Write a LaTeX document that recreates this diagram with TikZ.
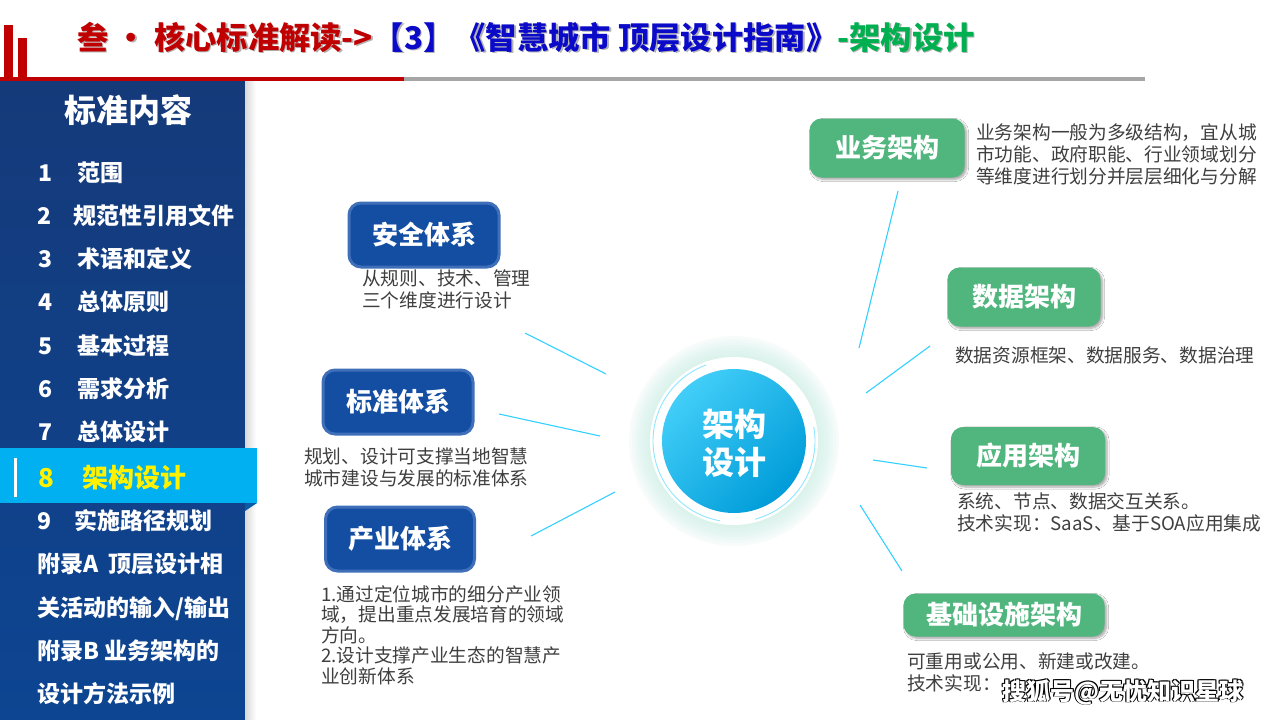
\documentclass[tikz,border=0pt]{standalone}
\usepackage{fontspec}
\setmainfont{Noto Sans CJK SC}
\usetikzlibrary{shadows.blur}
\definecolor{tred}{HTML}{C00000}
\definecolor{tblue}{HTML}{0A0AC8}
\definecolor{tgreen}{HTML}{00B050}
\definecolor{panelA}{HTML}{153A7A}
\definecolor{panelB}{HTML}{0D4592}
\definecolor{hilite}{HTML}{00B0F0}
\definecolor{bbox}{HTML}{134EA3}
\definecolor{bboxedge}{HTML}{3F6FB8}
\definecolor{gbox}{HTML}{50B67E}
\definecolor{desc}{HTML}{3F3F3F}
\definecolor{conn}{HTML}{33D1FF}
\definecolor{halo}{HTML}{CDEFE6}
\definecolor{coreA}{HTML}{42CEF8}
\definecolor{coreB}{HTML}{009CD9}
\tikzset{
  item/.style={anchor=base west, inner sep=0, text=white, font=\fontsize{23}{23}\selectfont\bfseries},
  bluebox/.style={draw=bboxedge, line width=3pt, fill=bbox, rounded corners=12pt, text=white, font=\fontsize{26}{26}\selectfont\bfseries, inner sep=0},
  greenbox/.style={fill=gbox, rounded corners=12pt, text=white, font=\fontsize{26}{26}\selectfont\bfseries, inner sep=0,
     blur shadow={shadow xshift=2pt, shadow yshift=-2pt, shadow blur steps=6, shadow opacity=35}},
  desctext/.style={anchor=north west, inner sep=0, align=left, text=desc, font=\fontsize{18.7}{22}\selectfont},
  connline/.style={draw=conn, line width=1.1pt},
  wmback/.style={text=black, font=\fontsize{24}{24}\selectfont\bfseries, inner sep=0},
}
\begin{document}
\begin{tikzpicture}[x=1pt,y=-1pt]
\useasboundingbox (0,0) rectangle (1280,720);
\fill[white] (0,0) rectangle (1280,720);
% top decoration
\fill[tred] (4,25) rectangle (13,78);
\fill[tred] (18,38) rectangle (27,78);
\fill[tred] (0,77) rectangle (404,81);
\fill[gray!70] (404,77) rectangle (1145,81);
% title
\node[anchor=base west, inner sep=0, text=black!30, font=\fontsize{31.3}{31.3}\selectfont\bfseries] (titleshadow) at (78.5,50.5)
  {叁 · 核心标准解读->【3】《智慧城市 顶层设计指南》-架构设计};
\node[anchor=base west, inner sep=0, font=\fontsize{31.3}{31.3}\selectfont\bfseries] (title) at (77,49)
  {\textcolor{tred}{叁 · 核心标准解读->}\textcolor{tblue}{【3】《智慧城市 顶层设计指南》}\textcolor{tgreen}{-架构设计}};
% left panel
\shade[top color=panelA, bottom color=panelB] (0,81) rectangle (245,720);
\shade[left color=black!15, right color=white] (245,81) rectangle (256,720);
\node[anchor=center, inner sep=0, text=white, font=\fontsize{32}{32}\selectfont\bfseries] (ptitle) at (128,110) {标准内容};
\node[item] (n1) at (38,181) {1}; \node[item] (t1) at (77,181) {范围};
\node[item] (n2) at (37,224) {2}; \node[item] (t2) at (73,224) {规范性引用文件};
\node[item] (n3) at (38,267) {3}; \node[item] (t3) at (77,267) {术语和定义};
\node[item] (n4) at (38,310) {4}; \node[item] (t4) at (77,310) {总体原则};
\node[item] (n5) at (38,354) {5}; \node[item] (t5) at (77,354) {基本过程};
\node[item] (n6) at (38,397) {6}; \node[item] (t6) at (77,397) {需求分析};
\node[item] (n7) at (38,440) {7}; \node[item] (t7) at (77,440) {总体设计};
% highlight
\fill[hilite] (0,448) rectangle (257,503);
\fill[panelB!80!hilite] (245,503) -- (257,503) -- (245,511) -- cycle;
\fill[white] (14,458) rectangle (17,497);
\node[item, text=yellow, font=\fontsize{26}{26}\selectfont\bfseries] (n8) at (38,487) {8};
\node[item, text=yellow, font=\fontsize{26}{26}\selectfont\bfseries] (t8) at (82,487) {架构设计};
\node[item] (n9) at (37,529) {9}; \node[item] (t9) at (74,529) {实施路径规划};
\node[item] (ta1) at (37,572) {附录A\hspace{10pt}顶层设计相};
\node[item] (ta2) at (37,616) {关活动的输入/输出};
\node[item] (tb1) at (37,659) {附录B 业务架构的};
\node[item] (tb2) at (37,702) {设计方法示例};
% center circle
\foreach \r in {105,102,...,84} {\fill[halo, opacity=0.14] (734,441) circle (\r);}
\fill[white] (734,441) circle (84);
\draw[conn!55, line width=0.9pt] (734,441) ++(100:81) arc (100:250:81);
\draw[conn!55, line width=0.9pt] (734,441) ++(-10:81) arc (-10:75:81);
\shade[shading=axis, top color=coreA, bottom color=coreB, shading angle=45] (734,441) circle (72);
\node[align=center, text=white, inner sep=0, font=\fontsize{32}{38}\selectfont\bfseries] (core) at (734,443) {架构\\设计};
% left boxes
\node[bluebox, minimum width=150, minimum height=64] (aq) at (424,235) {安全体系};
\node[desctext] (aqd) at (362,270) {从规则、技术、管理\\三个维度进行设计};
\node[bluebox, minimum width=150, minimum height=64] (bz) at (398,402) {标准体系};
\node[desctext] (bzd) at (304,448) {规划、设计可支撑当地智慧\\城市建设与发展的标准体系};
\node[bluebox, minimum width=149, minimum height=64] (cy) at (400,539) {产业体系};
\node[desctext, font=\fontsize{18.7}{20.5}\selectfont] (cyd) at (321,585) {1.通过定位城市的细分产业领\\域，提出重点发展培育的领域\\方向。\\2.设计支撑产业生态的智慧产\\业创新体系};
% right boxes
\node[greenbox, minimum width=155, minimum height=59] (yw) at (887,148) {业务架构};
\node[desctext] (ywd) at (976,123) {业务架构一般为多级结构，宜从城\\市功能、政府职能、行业领域划分\\等维度进行划分并层层细化与分解};
\node[greenbox, minimum width=153, minimum height=59] (sj) at (1024,297) {数据架构};
\node[desctext] (sjd) at (955,347) {数据资源框架、数据服务、数据治理};
\node[greenbox, minimum width=154, minimum height=58] (yy) at (1028,456) {应用架构};
\node[desctext] (yyd) at (957,492) {系统、节点、数据交互关系。\\技术实现：SaaS、基于SOA应用集成};
\node[greenbox, minimum width=201, minimum height=43] (jc) at (1004,615) {基础设施架构};
\node[desctext] (jcd) at (907,653) {可重用或公用、新建或改建。\\技术实现：};
% connectors
\coordinate (a1) at (525,333); \coordinate (a2) at (606,374);
\coordinate (b1) at (499,414); \coordinate (b2) at (600,436);
\coordinate (c1) at (531,536); \coordinate (c2) at (615,492);
\coordinate (d1) at (898,191); \coordinate (d2) at (859,348);
\coordinate (e1) at (930,346); \coordinate (e2) at (866,393);
\coordinate (f1) at (927,468); \coordinate (f2) at (873,460);
\coordinate (g1) at (902,571); \coordinate (g2) at (860,505);
\draw[connline] (a1) -- (a2);
\draw[connline] (b1) -- (b2);
\draw[connline] (c1) -- (c2);
\draw[connline] (d1) -- (d2);
\draw[connline] (e1) -- (e2);
\draw[connline] (f1) -- (f2);
\draw[connline] (g1) -- (g2);
% watermark
\node[wmback] (wm1) at (1124,693) {搜狐号@无忧知识星球};
\node[wmback] (wm2) at (1122,691) {搜狐号@无忧知识星球};
\node[wmback] (wm3) at (1124,691) {搜狐号@无忧知识星球};
\node[wmback] (wm4) at (1122,693) {搜狐号@无忧知识星球};
\node[wmback, text=white] (wm) at (1123,692) {搜狐号@无忧知识星球};
\end{tikzpicture}
\end{document}
